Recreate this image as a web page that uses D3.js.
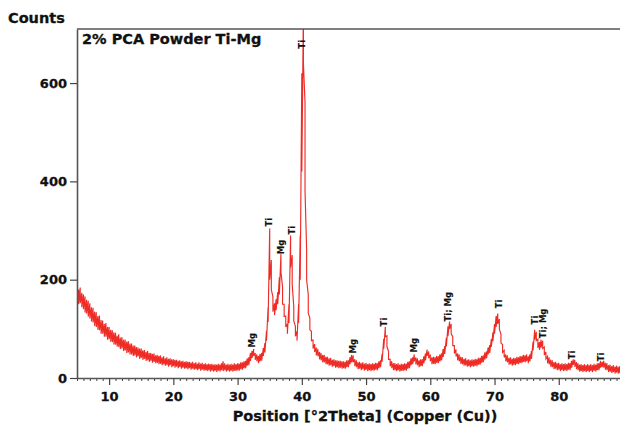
<!DOCTYPE html>
<html lang="en">
<head>
<meta charset="UTF-8">
<title>2% PCA Powder Ti-Mg</title>
<script src="https://d3js.org/d3.v7.min.js"></script>
<style>
  body { margin: 0; background: #fff; }
  svg text { font-family: "DejaVu Sans", sans-serif; font-weight: bold; fill: #111; stroke: #111; stroke-width: 0.3px; }
</style>
</head>
<body>
<div id="chart"></div>
<script>
// scan grid: 5..90 deg 2theta, one reading every 0.25 deg
const startAngle = 5;
const stepAngle = 0.25;

// top and bottom of the noisy trace at each grid step (counts)
const countsHigh = [
  188,180,184,173, 170,166,159,157, 152,144,143,135, 134,126,127,118, 117,110,112,104,
  104,98,97,93, 92,86,89,82, 83,78,78,74, 75,70,70,66, 66,63,62,60,
  60,56,57,53, 55,51,51,49, 50,46,47,45, 46,42,44,40, 42,39,40,38,
  38,37,37,35, 36,34,35,33, 34,33,33,31, 33,30,32,29, 32,29,31,28,
  30,28,29,28, 29,27,28,27, 29,27,30,34, 30,27,29,27, 29,27,30,28,
  30,29,32,32, 34,35,40,42, 51,55,59,51, 48,45,49,51, 61,71,96,144,
  304,240,165,152, 160,175,205,252, 185,150,126,110, 150,290,250,145, 105,95,150,290,
  620,760,560,260, 170,122,95,77, 69,62,59,53, 51,47,47,43, 43,40,41,37,
  38,36,36,35, 35,34,34,33, 36,36,42,47, 46,38,36,32, 33,30,32,29,
  31,28,30,28, 30,29,31,30, 34,36,49,80, 104,86,54,38, 34,30,30,28,
  30,27,29,28, 30,29,33,34, 40,42,48,42, 40,36,38,38, 44,50,58,54,
  48,42,43,42, 45,44,48,50, 59,65,82,105, 115,110,84,66, 58,50,48,43,
  42,39,40,37, 38,36,38,37, 39,38,41,41, 45,46,52,54, 62,67,79,93,
  110,126,131,120, 89,68,56,48, 46,41,42,39, 41,40,43,42, 45,44,47,46,
  48,44,48,55, 74,98,94,79, 73,78,76,63, 53,44,42,37, 36,32,33,30,
  31,28,30,28, 30,28,31,30, 35,38,37,32, 30,27,28,26, 28,26,28,26,
  28,26,29,27, 30,30,35,33, 35,31,30,26, 27,24,26,23, 25,23,24,22,
  23
];
const countsLow = [
  156,150,152,144, 140,133,131,125, 121,115,113,106, 104,98,97,90, 90,84,84,78,
  79,74,73,68, 68,64,63,59, 60,55,56,51, 52,48,48,45, 46,42,44,39,
  41,37,39,35, 36,33,35,31, 33,30,31,28, 29,26,28,25, 26,23,26,22,
  24,21,23,20, 22,19,21,19, 20,18,20,17, 19,17,18,16, 18,15,17,15,
  16,14,16,13, 15,13,15,12, 15,13,16,14, 16,13,15,13, 15,13,15,14,
  16,15,18,17, 20,20,25,26, 35,41,45,37, 34,30,34,35, 45,52,76,114,
  200,180,135,128, 138,150,170,215, 150,125,104,90, 112,225,190,116, 85,76,112,200,
  420,640,380,200, 132,98,76,60, 53,46,44,38, 36,32,32,28, 28,25,26,23,
  24,21,22,20, 21,19,20,19, 22,22,28,32, 32,24,22,18, 19,16,18,15,
  17,14,16,14, 16,15,17,16, 20,22,33,59, 84,64,38,24, 20,16,16,14,
  16,13,15,14, 16,15,19,20, 26,28,34,28, 26,22,24,24, 30,36,45,40,
  34,28,29,28, 31,30,34,36, 43,49,64,85, 100,90,66,50, 44,36,34,29,
  28,25,26,23, 24,22,24,23, 25,24,27,27, 31,32,38,40, 48,51,63,75,
  90,104,110,100, 71,52,42,34, 32,27,28,25, 27,26,29,28, 31,30,33,32,
  34,30,34,39, 56,78,76,61, 57,62,60,47, 39,30,28,23, 22,18,19,16,
  17,14,16,14, 16,14,17,16, 21,27,23,18, 16,13,14,12, 14,12,14,12,
  14,12,15,13, 16,16,21,22, 21,17,16,12, 13,10,12,9, 11,9,10,8,
  9
];

// phase markers
const peakAngles = [32.3, 34.95, 36.8, 38.5, 40.0, 47.9, 52.8, 57.5, 62.8, 70.7, 76.3, 77.5, 82.0, 86.6];
const peakLabelBase = [62, 308, 252, 292, 670, 50, 105, 52, 115, 142, 109, 81, 38, 34];
const peakNames = ["Mg", "Ti", "Mg", "Ti", "Ti", "Mg", "Ti", "Mg", "Ti; Mg", "Ti", "Ti", "Ti; Mg", "Ti", "Ti"];

const xTicks = [10, 20, 30, 40, 50, 60, 70, 80];
const yTicks = [0, 200, 400, 600];

const W = 620, H = 425;
const plotLeft = 77, plotTop = 29, plotBottom = 378;

const svg = d3.select("#chart").append("svg")
    .attr("width", W)
    .attr("height", H);

const x = d3.scaleLinear().domain([5, 90]).range([plotLeft, 623]);
const y = d3.scaleLinear().domain([0, 710]).range([plotBottom, plotTop]);

svg.append("clipPath").attr("id", "plot-clip")
  .append("rect")
    .attr("x", plotLeft).attr("y", plotTop)
    .attr("width", W - plotLeft).attr("height", plotBottom - plotTop);

// min/max pairs drawn as one zig-zag path
const pts = [];
countsHigh.forEach((hi, i) => {
    const a = startAngle + i * stepAngle;
    pts.push([a, hi]);
    pts.push([a, countsLow[i]]);
});

const line = d3.line().x(d => x(d[0])).y(d => y(d[1]));

svg.append("path")
    .datum(pts)
    .attr("clip-path", "url(#plot-clip)")
    .attr("fill", "none")
    .attr("stroke", "#ee2b25")
    .attr("stroke-width", 1.15)
    .attr("d", line);

// frame (top + left) and axes
svg.append("line")
    .attr("x1", plotLeft).attr("x2", W).attr("y1", plotTop).attr("y2", plotTop)
    .attr("stroke", "#555").attr("stroke-width", 1.6);

const minorTicks = d3.range(5, 91).filter(v => v % 10 !== 0);

const xMinor = svg.append("g")
    .attr("transform", `translate(0,${plotBottom})`)
    .call(d3.axisBottom(x).tickValues(minorTicks).tickSize(3).tickFormat(""));
xMinor.select(".domain").remove();
xMinor.selectAll("line").attr("stroke", "#444");

const xAxis = svg.append("g")
    .attr("transform", `translate(0,${plotBottom})`)
    .call(d3.axisBottom(x).tickValues(xTicks).tickSize(7).tickSizeOuter(0).tickPadding(7));
xAxis.select(".domain").attr("stroke", "#555").attr("stroke-width", 1.6);
xAxis.selectAll("line").attr("stroke", "#444").attr("stroke-width", 1.2);
xAxis.selectAll("text").style("font-size", "13px");

const yAxis = svg.append("g")
    .attr("transform", `translate(${plotLeft},0)`)
    .call(d3.axisLeft(y).tickValues(yTicks).tickSize(7).tickSizeOuter(0).tickPadding(3));
yAxis.select(".domain").attr("stroke", "#555").attr("stroke-width", 1.6);
yAxis.selectAll("line").attr("stroke", "#444").attr("stroke-width", 1.2);
yAxis.selectAll("text").style("font-size", "13px");

// peak labels, read upward
svg.selectAll(".peak")
    .data(peakAngles)
    .enter().append("text")
    .attr("class", "peak")
    .attr("transform", (d, i) => `translate(${x(d)},${y(peakLabelBase[i])}) rotate(-90)`)
    .attr("dominant-baseline", "central")
    .style("font-size", "8.5px")
    .style("stroke-width", "0.15px")
    .text((d, i) => peakNames[i]);

svg.append("text")
    .attr("x", 82).attr("y", 44)
    .style("font-size", "14.5px")
    .text("2% PCA Powder Ti-Mg");

svg.append("text")
    .attr("x", 8).attr("y", 23)
    .style("font-size", "14.5px")
    .text("Counts");

svg.append("text")
    .attr("x", 365).attr("y", 421)
    .attr("text-anchor", "middle")
    .style("font-size", "14.5px")
    .text("Position [°2Theta] (Copper (Cu))");
</script>
</body>
</html>
